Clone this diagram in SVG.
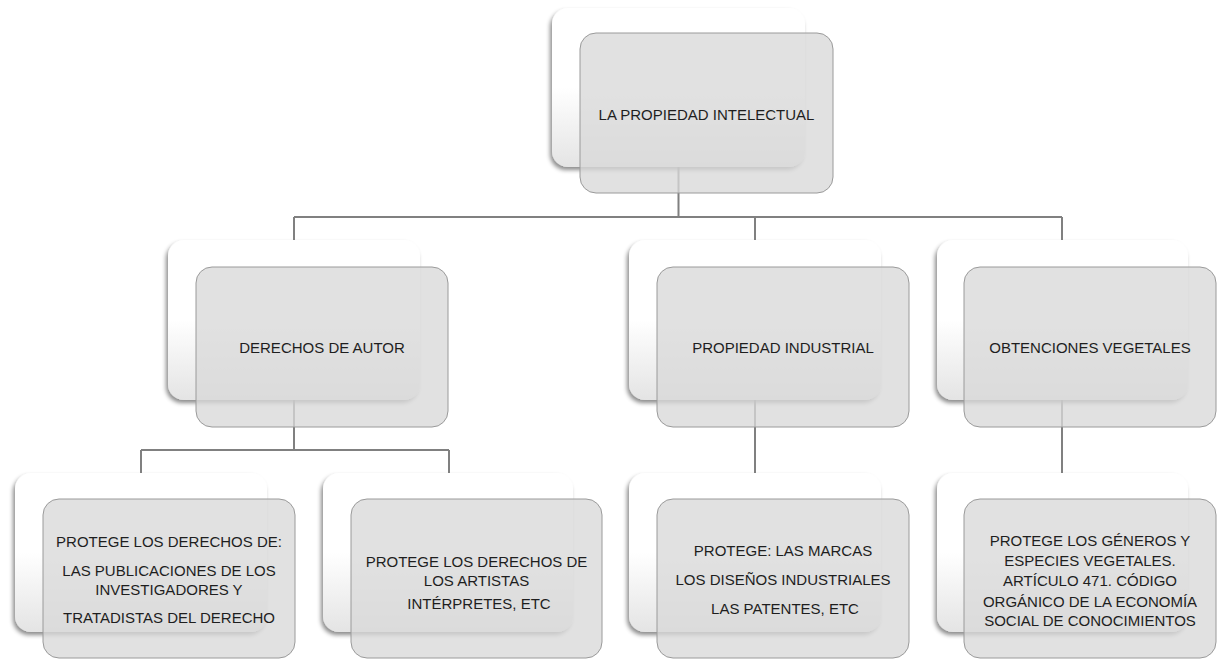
<svg xmlns="http://www.w3.org/2000/svg" width="1218" height="659" viewBox="0 0 1218 659">
<defs>
  <linearGradient id="backGrad" x1="0" y1="0" x2="0" y2="1">
    <stop offset="0" stop-color="#ffffff"/>
    <stop offset="0.5" stop-color="#ffffff"/>
    <stop offset="1" stop-color="#e4e4e4"/>
  </linearGradient>
  <filter id="shadow" x="-10%" y="-10%" width="120%" height="125%">
    <feDropShadow dx="-2" dy="3" stdDeviation="2" flood-color="#000" flood-opacity="0.45"/>
  </filter>
</defs>
<style>
  .back { fill: url(#backGrad); filter: url(#shadow); }
  .front { fill: #d8d8d8; fill-opacity: 0.78; stroke: #9a9a9a; stroke-width: 1; }
  .conn { fill: none; stroke: #808080; stroke-width: 2; }
  text { font-family: "Liberation Sans", Arial, sans-serif; font-size: 15px; fill: #1e1e1e; text-anchor: middle; }
</style>
<rect width="1218" height="659" fill="#ffffff"/>

<!-- back cards -->
<g id="backs">
  <rect class="back" x="552" y="8" width="253" height="159" rx="16"/>
  <rect class="back" x="168" y="240" width="252" height="160" rx="16"/>
  <rect class="back" x="629" y="240" width="252" height="160" rx="16"/>
  <rect class="back" x="937" y="240" width="251" height="160" rx="16"/>
  <rect class="back" x="15" y="473" width="252" height="159" rx="16"/>
  <rect class="back" x="323" y="473" width="250" height="159" rx="16"/>
  <rect class="back" x="629" y="473" width="252" height="159" rx="16"/>
  <rect class="back" x="937" y="473" width="251" height="159" rx="16"/>
</g>

<g id="connectors">
  <path class="conn" d="M678.5,167 V217 M294,217 H1062 M294,217 V240 M755,217 V240 M1062,217 V240"/>
  <path class="conn" d="M294,400 V450 M141,450 H449 M141,450 V473 M449,450 V473"/>
  <path class="conn" d="M755,400 V473"/>
  <path class="conn" d="M1062,400 V473"/>
</g>

<g id="n-root">
  <rect class="front" x="580" y="33" width="253" height="160" rx="16"/>
  <text x="706.5" y="120">LA PROPIEDAD INTELECTUAL</text>
</g>
<g id="n-autor">
  <rect class="front" x="196" y="267" width="252" height="160" rx="16"/>
  <text x="322" y="352.5">DERECHOS DE AUTOR</text>
</g>
<g id="n-industrial">
  <rect class="front" x="657" y="267" width="252" height="160" rx="16"/>
  <text x="783" y="352.5">PROPIEDAD INDUSTRIAL</text>
</g>
<g id="n-vegetales">
  <rect class="front" x="964" y="267" width="252" height="160" rx="16"/>
  <text x="1090" y="352.5">OBTENCIONES VEGETALES</text>
</g>
<g id="n-investigadores">
  <rect class="front" x="43" y="499" width="252" height="159" rx="16"/>
  <text x="169" y="547">PROTEGE LOS DERECHOS DE:</text>
  <text x="169" y="576">LAS PUBLICACIONES DE LOS</text>
  <text x="169" y="595">INVESTIGADORES Y</text>
  <text x="169" y="623">TRATADISTAS DEL DERECHO</text>
</g>
<g id="n-artistas">
  <rect class="front" x="351" y="499" width="251" height="159" rx="16"/>
  <text x="476.5" y="567">PROTEGE LOS DERECHOS DE</text>
  <text x="476.5" y="586">LOS ARTISTAS</text>
  <text x="479" y="609">INTÉRPRETES, ETC</text>
</g>
<g id="n-marcas">
  <rect class="front" x="657" y="499" width="252" height="159" rx="16"/>
  <text x="783" y="556">PROTEGE: LAS MARCAS</text>
  <text x="783" y="585">LOS DISEÑOS INDUSTRIALES</text>
  <text x="785" y="614">LAS PATENTES, ETC</text>
</g>
<g id="n-generos">
  <rect class="front" x="964" y="499" width="252" height="159" rx="16"/>
  <text x="1090" y="546">PROTEGE LOS GÉNEROS Y</text>
  <text x="1090" y="566">ESPECIES VEGETALES.</text>
  <text x="1090" y="586">ARTÍCULO 471. CÓDIGO</text>
  <text x="1090" y="607">ORGÁNICO DE LA ECONOMÍA</text>
  <text x="1090" y="626">SOCIAL DE CONOCIMIENTOS</text>
</g>
</svg>
